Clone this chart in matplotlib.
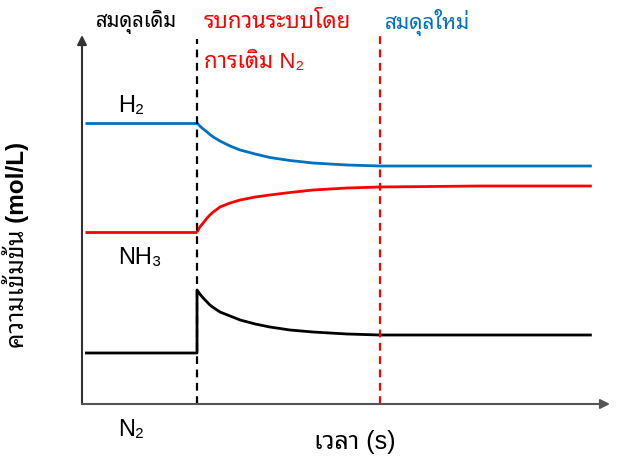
import matplotlib
matplotlib.use("Agg")
import matplotlib.pyplot as plt

plt.rcParams['font.family'] = ['Liberation Sans', 'Noto Sans Thai Looped', 'DejaVu Sans']

# time (arbitrary units) and concentrations (mol/L, arbitrary)
t_before = [0.0, 2.0]
t_after = [2.00, 2.05, 2.11, 2.18, 2.23, 2.29, 2.41, 2.59, 2.77, 3.04, 3.30,
           3.66, 4.07, 4.68, 5.27, 7.05, 9.05]

h2_before = [2.81, 2.81]
h2_after = [2.81, 2.78, 2.75, 2.72, 2.695, 2.67, 2.63, 2.58, 2.54, 2.50, 2.465,
            2.435, 2.41, 2.39, 2.38, 2.38, 2.38]

nh3_before = [1.72, 1.72]
nh3_after = [1.72, 1.77, 1.81, 1.86, 1.89, 1.92, 1.97, 2.01, 2.04, 2.07, 2.09,
             2.115, 2.14, 2.16, 2.17, 2.18, 2.18]

n2_before = [0.51, 0.51]
n2_after = [1.14, 1.10, 1.06, 1.02, 0.99, 0.965, 0.92, 0.88, 0.84, 0.80, 0.77,
            0.74, 0.72, 0.70, 0.69, 0.69, 0.69]

t_disturb = 2.0
t_new_eq = 5.27

blue = '#0070C0'
red = '#FF0000'

fig = plt.figure(figsize=(6.23, 4.61), dpi=100)
ax = fig.add_axes([82/623, 57/461, 528/623, 369/461])
ax.set_xlim(-0.054, 9.375)
ax.set_ylim(0, 3.69)

ax.plot(t_before, h2_before, color=blue, lw=2, solid_capstyle='butt')
ax.plot(t_after, h2_after, color=blue, lw=2, solid_capstyle='butt')
ax.plot(t_before, nh3_before, color=red, lw=2, solid_capstyle='butt')
ax.plot(t_after, nh3_after, color=red, lw=2, solid_capstyle='butt')
ax.plot(t_before + t_after, n2_before + n2_after, color='black', lw=2,
        solid_capstyle='butt')

ax.axvline(t_disturb, ymax=0.99, color='black', lw=1.6, ls=(0, (3.5, 2.5)))
ax.axvline(t_new_eq, ymax=1.0, color=red, lw=1.6, ls=(0, (3.5, 2.5)), clip_on=False)

# axes with arrow heads
for s in ax.spines.values():
    s.set_visible(False)
ax.set_xticks([])
ax.set_yticks([])
ax.annotate('', xy=(0, 1.0), xytext=(0, 0), xycoords='axes fraction',
            arrowprops=dict(arrowstyle='-|>', color='#333333', lw=1.5,
                            mutation_scale=14, shrinkA=0, shrinkB=0))
ax.annotate('', xy=(1.0, 0), xytext=(0, 0), xycoords='axes fraction',
            arrowprops=dict(arrowstyle='-|>', color='#555555', lw=1.5,
                            mutation_scale=14, shrinkA=0, shrinkB=0))

ax.set_xlabel('เวลา (s)', fontsize=18)
ax.set_ylabel('ความเข้มข้น (mol/L)', fontsize=17.5, fontweight='bold')
ax.xaxis.set_label_coords(0.517, -0.07)
ax.yaxis.set_label_coords(-0.10, 0.43)

# header notes
fig.text(96/623, 1 - 22/461, 'สมดุลเดิม', fontsize=14.5, color='black', va='center')
fig.text(204/623, 1 - 22/461, 'รบกวนระบบโดย', fontsize=16, color=red, va='center')
fig.text(204/623, 1 - 62/461, 'การเติม N₂', fontsize=16, color=red, va='center')
fig.text(385/623, 1 - 22/461, 'สมดุลใหม่', fontsize=15, color=blue, va='center')

# species labels
ax.text(0.6, 2.98, 'H₂', fontsize=17, va='center')
ax.text(0.6, 1.46, 'NH₃', fontsize=17, va='center')
ax.text(0.6, -0.26, 'N₂', fontsize=17, va='center', clip_on=False)

fig.savefig('out.png')
